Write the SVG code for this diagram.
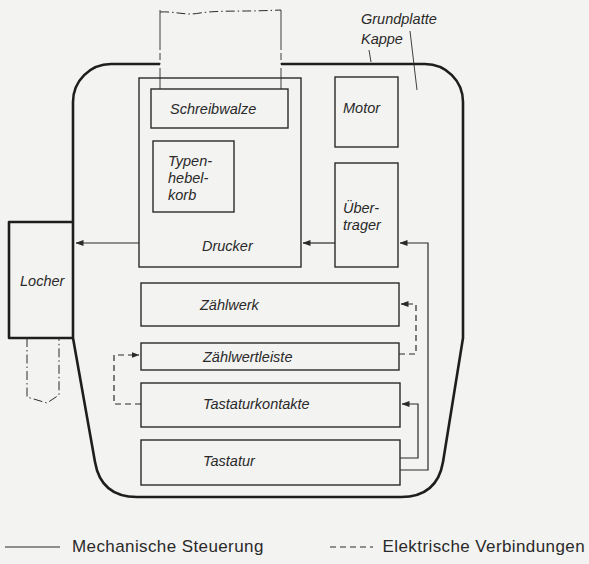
<svg xmlns="http://www.w3.org/2000/svg" width="589" height="564" viewBox="0 0 589 564">
<defs>
<marker id="ah" markerWidth="8" markerHeight="6" refX="7.5" refY="3" orient="auto" markerUnits="userSpaceOnUse">
<path d="M0,0 L8,3 L0,6 Z" fill="#2a2a2a"/>
</marker>
<style>
.lbl{font-family:"Liberation Sans",Arial,sans-serif;font-style:italic;font-size:14.5px;fill:#2a2a2a}
.leg{font-family:"Liberation Sans",Arial,sans-serif;font-size:17px;letter-spacing:0.4px;fill:#2a2a2a}
.box{fill:none;stroke:#2a2a2a;stroke-width:1.4}
.thick{fill:none;stroke:#1e1e1e;stroke-width:2.6;stroke-linejoin:round}
.mech{fill:none;stroke:#2a2a2a;stroke-width:1.2}
.elec{fill:none;stroke:#2a2a2a;stroke-width:1.2;stroke-dasharray:6 4}
.dd{fill:none;stroke:#2a2a2a;stroke-width:1;stroke-dasharray:9 3 1.5 3}
.thin{fill:none;stroke:#2a2a2a;stroke-width:0.9}
</style>
</defs>
<rect width="589" height="564" fill="#f3f3f1"/>

<g id="kappe">
<path class="thick" d="M160,64 H111 A38,38 0 0 0 73,102 V338 L95,462 Q101,497 137,497 H401 Q437,497 443,462 L463,338 V102 A38,38 0 0 0 425,64 H281"/>
</g>

<g id="papier">
<path class="dd" d="M160,12 C175,11 185,16 200,13 C220,10 240,12 281,10"/>
<path class="thin" d="M160,10 V50 M160,53 V60 M160,63 V64.5 M160,68 V89"/>
<path class="thin" d="M281,10 V50 M281,53 V60 M281,63 V64.5 M281,68 V89"/>
</g>

<g id="drucker">
<rect class="box" x="139" y="78" width="162" height="189"/>
<text class="lbl" x="202" y="251">Drucker</text>
</g>
<g id="schreibwalze">
<rect class="box" x="151" y="89" width="137" height="39"/>
<text class="lbl" x="170" y="114">Schreibwalze</text>
</g>
<g id="typenhebelkorb">
<rect class="box" x="153" y="141" width="81" height="71"/>
<text class="lbl" x="168" y="166">Typen-</text>
<text class="lbl" x="168" y="183">hebel-</text>
<text class="lbl" x="168" y="200">korb</text>
</g>
<g id="motor">
<rect class="box" x="335" y="77" width="63" height="70"/>
<text class="lbl" x="343" y="113">Motor</text>
</g>
<g id="uebertrager">
<rect class="box" x="335" y="163" width="63" height="104"/>
<text class="lbl" x="343" y="213">Über-</text>
<text class="lbl" x="343" y="230">trager</text>
</g>
<g id="locher">
<path class="thick" d="M73,222 H9 V338 H73"/>
<text class="lbl" x="20" y="286">Locher</text>
<path class="dd" d="M27,338 V397 L47,403 L59,395 V338"/>
</g>
<g id="zaehlwerk">
<rect class="box" x="141" y="283" width="258" height="43"/>
<text class="lbl" x="200" y="310">Zählwerk</text>
</g>
<g id="zaehlwertleiste">
<rect class="box" x="141" y="343" width="258" height="27"/>
<text class="lbl" x="203" y="362">Zählwertleiste</text>
</g>
<g id="tastaturkontakte">
<rect class="box" x="141" y="383" width="259" height="44"/>
<text class="lbl" x="203" y="409">Tastaturkontakte</text>
</g>
<g id="tastatur">
<rect class="box" x="141" y="440" width="259" height="45"/>
<text class="lbl" x="203" y="466">Tastatur</text>
</g>

<g id="connectors">
<path class="mech" marker-end="url(#ah)" d="M139,243 H76"/>
<path class="mech" marker-end="url(#ah)" d="M335,243 H303"/>
<path class="mech" marker-end="url(#ah)" d="M400,470 H428 V243 H400"/>
<path class="mech" marker-end="url(#ah)" d="M400,458 H418 V404 H402"/>
<path class="elec" marker-end="url(#ah)" d="M399,354 H416 V304 H401"/>
<path class="elec" marker-end="url(#ah)" d="M141,404 H114 V355 H139"/>
</g>

<g id="leaders">
<text class="lbl" x="361" y="24">Grundplatte</text>
<text class="lbl" x="361" y="44">Kappe</text>
<path class="thin" d="M369,50 L371,62"/>
<path class="thin" d="M410,31 L417,90"/>
</g>

<g id="legend">
<path class="mech" d="M5,547 H60"/>
<text class="leg" x="72" y="552">Mechanische Steuerung</text>
<path class="elec" d="M330,547 H373"/>
<text class="leg" x="585" y="552" text-anchor="end">Elektrische Verbindungen</text>
</g>
</svg>
